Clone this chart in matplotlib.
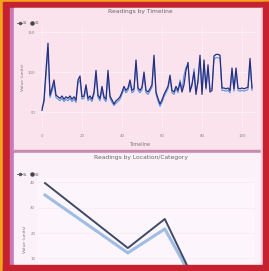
import matplotlib
matplotlib.use("Agg")
import matplotlib.pyplot as plt
from matplotlib.patches import Rectangle
from matplotlib.lines import Line2D
import numpy as np

# ---------------- data ----------------
top_title = "Readings by Timeline"
bottom_title = "Readings by Location/Category"
series_names = ["S1", "S2"]

# top chart: timeline readings (index positions)
series_a = [52, 65, 102, 136, 71, 80, 90, 71, 69, 67, 70, 66, 69, 67, 70, 66, 69, 65, 90, 95,
            69, 70, 84, 67, 70, 66, 75, 102, 71, 67, 82, 69, 66, 102, 70, 65, 60, 64, 66, 69,
            75, 82, 77, 80, 90, 77, 79, 115, 80, 77, 81, 100, 77, 75, 79, 84, 121, 75, 67, 60,
            65, 72, 77, 82, 96, 77, 75, 82, 77, 87, 75, 84, 102, 112, 75, 85, 100, 72, 90, 121,
            72, 115, 80, 109, 75, 77, 120, 122, 122, 121, 80, 80, 79, 80, 77, 105, 79, 105, 80, 79,
            80, 79, 80, 81, 117, 80]
series_b = [55, 62, 95, 128, 68, 76, 85, 68, 66, 64, 67, 63, 66, 64, 67, 63, 66, 62, 86, 90,
            66, 67, 80, 64, 67, 63, 72, 96, 68, 64, 78, 66, 63, 97, 67, 62, 58, 61, 63, 66,
            72, 79, 74, 77, 86, 74, 76, 110, 77, 74, 78, 96, 74, 72, 76, 81, 116, 72, 64, 57,
            62, 69, 74, 79, 92, 74, 72, 79, 74, 90, 78, 96, 106, 108, 78, 82, 104, 76, 86, 116,
            76, 110, 78, 104, 78, 80, 116, 118, 118, 117, 77, 77, 76, 77, 74, 100, 76, 100, 77, 76,
            77, 76, 77, 78, 112, 77]
top_xticks = [0, 20, 40, 60, 80, 100]
top_yticks = [50, 100, 150]

# bottom chart
cat_x = [0.0, 2.24, 3.24, 4.05]
cat_a = [39.6, 14.1, 25.5, 1.0]
cat_b = [34.9, 12.2, 21.6, 0.5]
bottom_yticks = [10, 20, 30, 40]

# ---------------- figure ----------------
W, H = 269, 271
fig = plt.figure(figsize=(W / 100, H / 100), dpi=100)
fig.patch.set_facecolor("#f2a31c")

def rect_px(x, y, w, h):
    return [x / W, 1 - (y + h) / H, w / W, h / H]

# background layer (pixel coordinates)
bg = fig.add_axes([0, 0, 1, 1], zorder=0)
bg.set_xlim(0, W); bg.set_ylim(H, 0); bg.axis("off")
bg.add_patch(Rectangle((3, 2), W - 3, H - 2, color="#c6212f"))
bg.add_patch(Rectangle((10, 8), 253, 257, color="#c97ab6"))
bg.add_patch(Rectangle((14, 8), 249, 143, color="#fbe3ee"))
bg.add_patch(Rectangle((14, 150), 249, 3, color="#c98aab"))
bg.add_patch(Rectangle((14, 153), 249, 112, color="#fbf1f8"))
bg.add_patch(Rectangle((261, 8), 2, 257, color="#f5cde0"))
bg.text(140, 11, top_title, ha="center", va="center", fontsize=4.3, color="#666666")
bg.text(140, 145, "Timeline", ha="center", va="center", fontsize=3.5, color="#777777")
bg.text(141, 158, bottom_title, ha="center", va="center", fontsize=4.3, color="#666666")

# ---------------- top chart ----------------
ax1 = fig.add_axes(rect_px(38, 26, 217, 102), zorder=1)
ax1.set_facecolor("#fbe3ee")
x_idx = np.arange(len(series_a))
ax1.plot(x_idx, series_b, color="#5b93dc", lw=0.8)
ax1.plot(x_idx, series_a, color="#27307e", lw=0.9)
ax1.set_xlim(-2, 106.5)
ax1.set_ylim(30, 157.5)
ax1.set_xticks(top_xticks)
ax1.set_yticks(top_yticks)
ax1.tick_params(axis="x", labelsize=2.8, colors="#888888", length=0, pad=4)
ax1.tick_params(axis="y", labelsize=2.8, colors="#888888", length=0, pad=2)
ax1.grid(True, color="#fdf3f8", lw=0.5)
for s in ax1.spines.values():
    s.set_visible(False)
ax1.set_ylabel("Value (units)", fontsize=3.2, color="#777777", labelpad=2)
h1 = [Line2D([], [], color="#555555", lw=0.6, marker="o", ms=1.5),
      Line2D([], [], color="#444444", lw=0, marker="o", ms=2.2)]
ax1.legend(h1, series_names, loc="upper left", bbox_to_anchor=(-0.11, 1.08), fontsize=2.6,
           frameon=False, ncol=2, handlelength=1.2, columnspacing=0.6, handletextpad=0.3,
           labelcolor="#666666")

# ---------------- bottom chart ----------------
ax2 = fig.add_axes(rect_px(38, 178, 217, 122), zorder=1)
ax2.set_facecolor("#fcf5fb")
ax2.plot(cat_x, cat_b, color="#9fbde2", lw=2.2)
ax2.plot(cat_x, cat_a, color="#3e4a66", lw=1.4)
ax2.set_xlim(-0.19, 5.68)
ax2.set_ylim(-6.3, 41.6)
ax2.set_yticks(bottom_yticks)
ax2.set_xticks([])
ax2.tick_params(labelsize=2.8, colors="#888888", length=0, pad=2)
ax2.grid(True, axis="y", color="#f6eaf3", lw=0.5)
for s in ax2.spines.values():
    s.set_visible(False)
ax2.set_ylabel("Value (units)", fontsize=3.2, color="#777777", labelpad=2)
h2 = [Line2D([], [], color="#555555", lw=0.6, marker="o", ms=1.5),
      Line2D([], [], color="#444444", lw=0, marker="o", ms=2.2)]
ax2.legend(h2, series_names, loc="upper left", bbox_to_anchor=(-0.11, 1.07), fontsize=2.6,
           frameon=False, ncol=2, handlelength=1.2, columnspacing=0.6, handletextpad=0.3,
           labelcolor="#666666")

# ---------------- border overlay ----------------
ov = fig.add_axes([0, 0, 1, 1], zorder=5)
ov.set_xlim(0, W); ov.set_ylim(H, 0); ov.axis("off")
ov.patch.set_alpha(0)
ov.add_patch(Rectangle((3, 265), W - 3, 6, color="#c6212f"))
ov.add_patch(Rectangle((263, 2), 6, H - 2, color="#c6212f"))

fig.savefig("out.png", dpi=100)
